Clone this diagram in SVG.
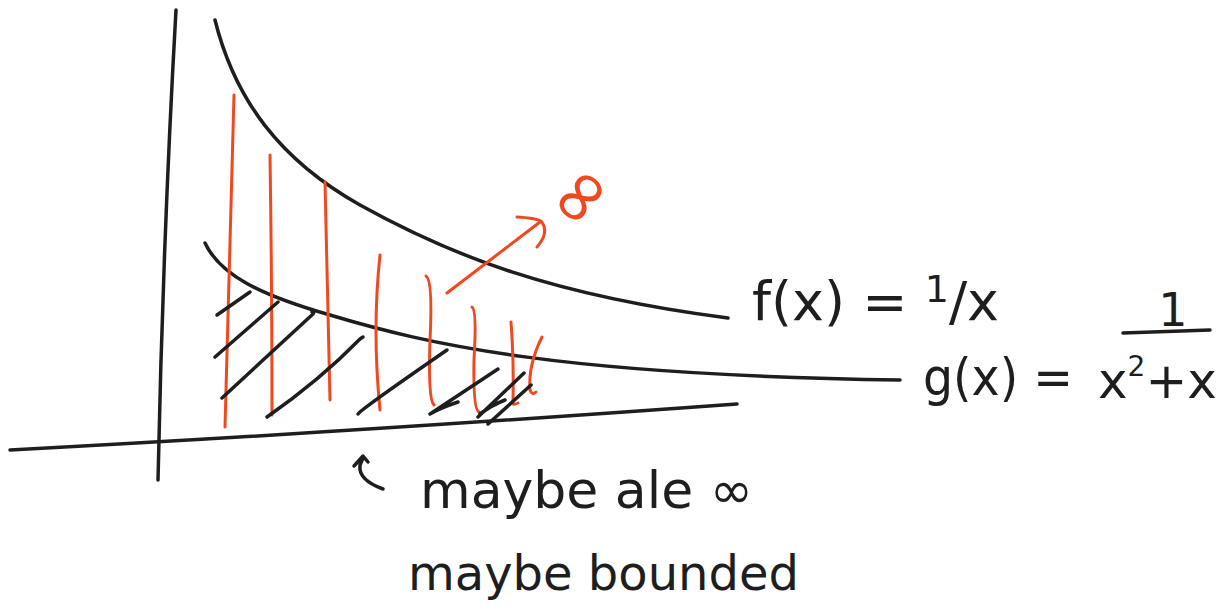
<svg xmlns="http://www.w3.org/2000/svg" width="1226" height="615" viewBox="0 0 1226 615">
<style>
.ink{fill:none;stroke:#1e1e1e;stroke-width:3.5;stroke-linecap:round;stroke-linejoin:round}
.red{fill:none;stroke:#f0481f;stroke-width:3;stroke-linecap:round;stroke-linejoin:round}
.txt{font-family:"DejaVu Sans","Liberation Sans",sans-serif;fill:#1e1e1e}
.rtxt{font-family:"DejaVu Sans","Liberation Sans",sans-serif;fill:#f0481f}
</style>
<rect width="1226" height="615" fill="#ffffff"/>
<g id="axes">
<path class="ink" d="M176,10 Q163,240 158,480"/>
<path class="ink" d="M10,450 Q350,432 737,404"/>
</g>
<g id="curves">
<path id="f-curve" class="ink" d="M215,20 C235,100 280,160 360,205 C450,255 550,295 728,318"/>
<path id="g-curve" class="ink" d="M205,243 C220,275 260,295 330,315 C430,345 560,375 900,380"/>
</g>
<g id="red-lines">
<path class="red" d="M234,95 Q230,260 225,427"/>
<path class="red" d="M270,155 Q272,290 272,415"/>
<path class="red" d="M325,182 Q328,300 330,400"/>
<path class="red" d="M380,255 Q372,330 380,410"/>
<path class="red" d="M426,276 Q433,280 430,340 Q428,400 434,405"/>
<path class="red" d="M472,307 Q477,310 474,360 Q473,410 479,412"/>
<path class="red" d="M511,322 Q514,360 513,404 Q514,405 518,403"/>
<path class="red" d="M542,337 Q528,365 530,390 Q532,396 536,392"/>
</g>
<g id="hatching">
<path class="ink" d="M217,315 L250,292"/>
<path class="ink" d="M215,357 L278,302"/>
<path class="ink" d="M222,398 L313,314 Q315,311 312,312"/>
<path class="ink" d="M267,417 Q320,380 360,339 L363,337"/>
<path class="ink" d="M358,414 Q360,410 447,350"/>
<path class="ink" d="M430,414 L498,369 M430,414 Q440,408 458,402"/>
<path class="ink" d="M478,417 L524,373 M480,414 Q492,405 505,400"/>
<path class="ink" d="M488,424 L531,385"/>
</g>
<g id="infinity-arrow">
<path class="red" d="M447,293 L540,222"/>
<path class="red" d="M517,217 Q535,218 541,221 Q550,232 537,247"/>
<text class="rtxt" x="0" y="0" font-size="76" transform="translate(598,212) rotate(-50)" text-anchor="middle">∞</text>
</g>
<g id="bracket-arrow">
<path class="ink" d="M383,489 Q358,480 360,465 L363,458 M354,466 L363,456 L368,462"/>
</g>
<g id="labels">
<text class="txt" x="752" y="320" font-size="54">f(x) = <tspan font-size="38" dy="-18">1</tspan><tspan dy="18">/x</tspan></text>
<text class="txt" x="923" y="395" font-size="52" textLength="150" lengthAdjust="spacingAndGlyphs">g(x) =</text>
<text class="txt" x="1173" y="326" font-size="46" text-anchor="middle">1</text>
<path class="ink" d="M1123,333 L1210,330"/>
<text class="txt" x="1098" y="398" font-size="50">x<tspan font-size="28" dy="-22">2</tspan><tspan dy="22">+x</tspan></text>
<text class="txt" x="420" y="508" font-size="52">maybe ale ∞</text>
<text class="txt" x="408" y="590" font-size="48">maybe bounded</text>
</g>
</svg>
